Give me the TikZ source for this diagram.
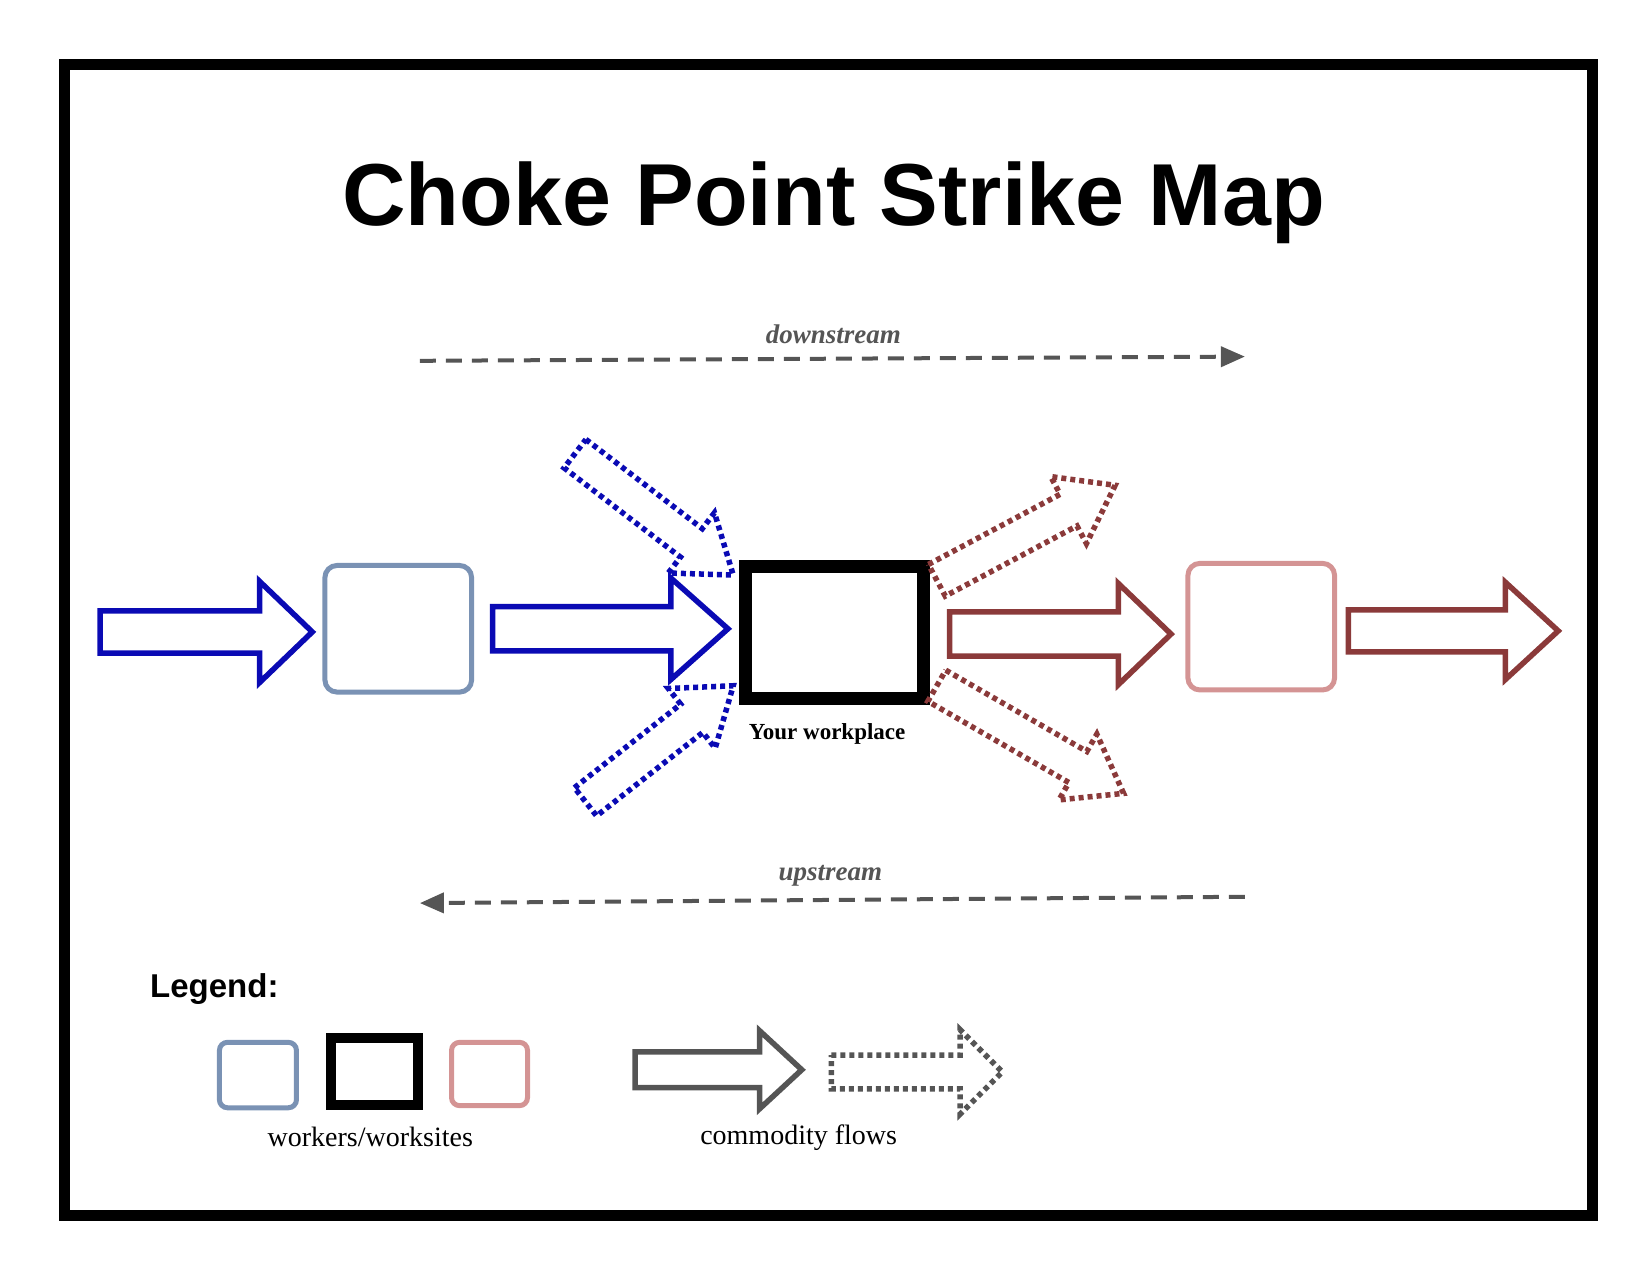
\documentclass[tikz,border=0pt]{standalone}
\usepackage{fontspec}
\setmainfont{Liberation Serif}
\newfontfamily\sansf{Liberation Sans}
\usetikzlibrary{calc,arrows.meta}
\definecolor{bl}{HTML}{0A0AB4}
\definecolor{rd}{HTML}{8B3A3A}
\definecolor{bbox}{HTML}{7A92B4}
\definecolor{pbox}{HTML}{D49494}
\definecolor{gr}{HTML}{555555}
\newcommand{\barrow}[6][]{%
  \coordinate (H) at ($(#3)!#6*1.055pt!(#2)$);
  \draw[#1] ($(#2)!#4*1.055pt!90:(#3)$) -- ($(H)!#4*1.055pt!-90:(#2)$) -- ($(H)!#5*1.055pt!-90:(#2)$) -- (#3) -- ($(H)!#5*1.055pt!90:(#2)$) -- ($(H)!#4*1.055pt!90:(#2)$) -- ($(#2)!#4*1.055pt!-90:(#3)$) -- cycle;}
\begin{document}
\begin{tikzpicture}[x=1.055pt,y=-1.055pt,
  solidarr/.style={line width=5.5pt,line join=miter},
  dotarr/.style={line width=5.5pt,dash pattern=on 5pt off 4pt},
  site/.style={line width=5pt,rounded corners=12pt},
  flow/.style={gr,line width=4pt,dash pattern=on 16pt off 10pt,-{Triangle[length=24pt,width=20pt]}},
  lbl/.style={font=\bfseries\itshape\fontsize{27}{30}\selectfont,text=gr}]
\useasboundingbox (0,0) rectangle (1564,1208.5);
\draw[line width=11pt] (61,61) rectangle (1509,1152);
\node[font=\sansf\bfseries\fontsize{88}{96}\selectfont] (title) at (790,192) {Choke Point Strike Map};
% flows
\coordinate (d1) at (398,342); \coordinate (d2) at (1180,338);
\draw[flow] (d1) -- (d2);
\node[lbl] (dl) at (790,317) {downstream};
\coordinate (u1) at (1180,850); \coordinate (u2) at (398,856);
\draw[flow] (u1) -- (u2);
\node[lbl] (ul) at (787,830) {upstream};
% sites
\draw[site,bbox] (308,536) rectangle (447,656);
\draw[line width=13pt] (707,537) rectangle (875,662);
\draw[site,pbox] (1126,534) rectangle (1265,654);
\node[font=\bfseries\fontsize{23}{26}\selectfont] (yw) at (784,696) {Your workplace};
% solid arrows
\coordinate (a1) at (95,599); \coordinate (b1) at (296,599);
\barrow[solidarr,bl]{a1}{b1}{20}{48}{50}
\coordinate (a2) at (467,596); \coordinate (b2) at (690,596);
\barrow[solidarr,bl]{a2}{b2}{21}{48}{54}
\coordinate (a3) at (900,601); \coordinate (b3) at (1110,601);
\barrow[solidarr,rd]{a3}{b3}{21}{48}{50}
\coordinate (a4) at (1278,598); \coordinate (b4) at (1477,598);
\barrow[solidarr,rd]{a4}{b4}{20}{46}{50}
% dotted arrows
\coordinate (a5) at (545,430); \coordinate (b5) at (695,545);
\barrow[dotarr,bl]{a5}{b5}{17}{36}{50}
\coordinate (a6) at (555,760); \coordinate (b6) at (695,650);
\barrow[dotarr,bl]{a6}{b6}{17}{36}{50}
\coordinate (a7) at (888,550); \coordinate (b7) at (1057,460);
\barrow[dotarr,rd]{a7}{b7}{17}{36}{50}
\coordinate (a8) at (888,650); \coordinate (b8) at (1065,752);
\barrow[dotarr,rd]{a8}{b8}{17}{36}{50}
% legend
\node[font=\sansf\bfseries\fontsize{33}{36}\selectfont,anchor=west] (lg) at (139,937) {Legend:};
\draw[site,bbox,rounded corners=8pt] (208,988) rectangle (281,1050);
\draw[line width=10pt] (314,984) rectangle (396,1047);
\draw[site,pbox,rounded corners=8pt] (428,988) rectangle (500,1048);
\node[font=\fontsize{28}{32}\selectfont] (ww) at (351,1078) {workers/worksites};
\coordinate (a9) at (602,1014); \coordinate (b9) at (760,1014);
\barrow[solidarr,gr]{a9}{b9}{17}{37}{40}
\coordinate (a10) at (788,1016); \coordinate (b10) at (950,1016);
\barrow[dotarr,gr]{a10}{b10}{16}{40}{40}
\node[font=\fontsize{28}{32}\selectfont] (cf) at (757,1078) {commodity flows};
\end{tikzpicture}
\end{document}
